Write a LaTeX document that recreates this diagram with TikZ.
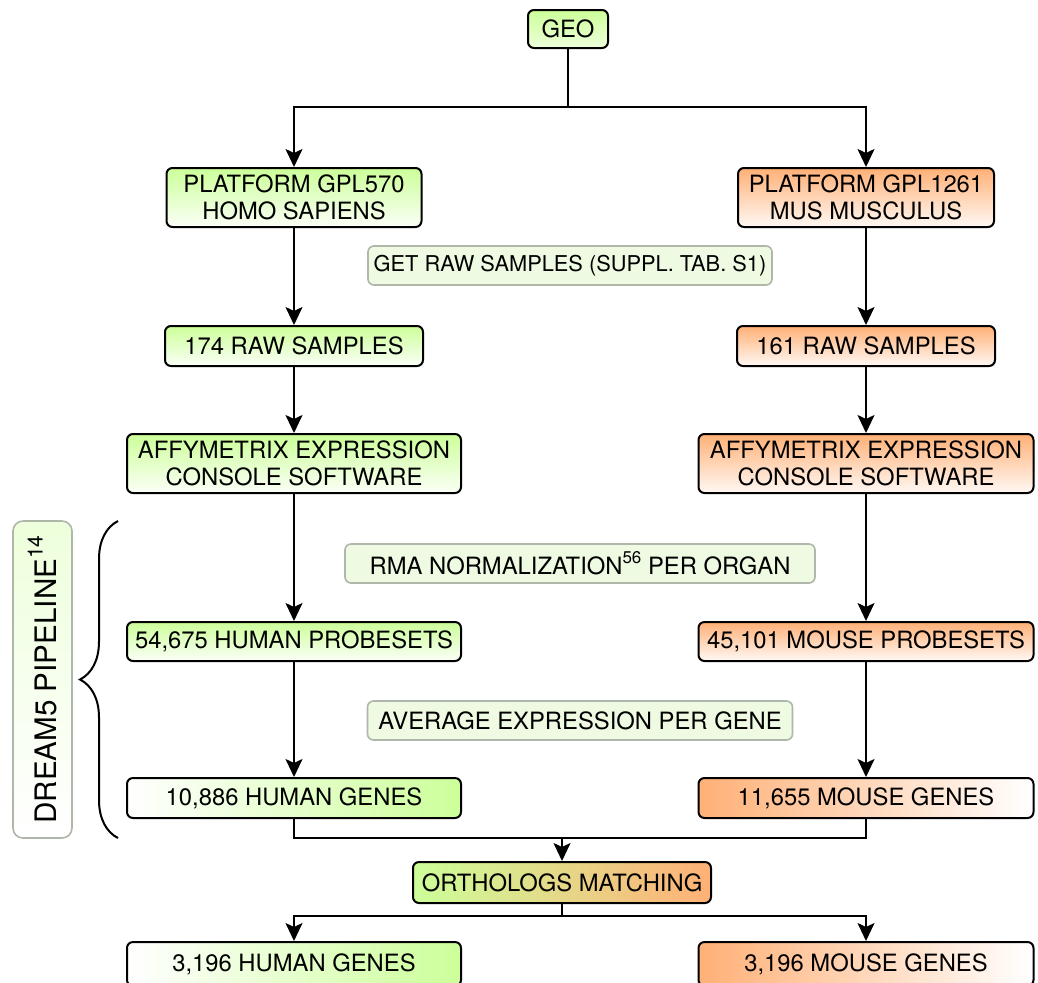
\documentclass[tikz,border=0pt]{standalone}
\usepackage{fontspec}
\setmainfont{TeX Gyre Heros}
\usetikzlibrary{arrows.meta,decorations.pathreplacing}
\definecolor{hgreen}{RGB}{204,255,153}
\definecolor{morange}{RGB}{255,176,118}
\definecolor{notefill}{RGB}{238,250,226}
\definecolor{notedraw}{RGB}{175,182,170}
\newcommand{\boxfont}[0]{\fontsize{11.9}{13.2}\selectfont}
\newcommand{\supnum}[1]{\raisebox{0.9ex}{\fontsize{8.5}{9}\selectfont #1}}

\begin{document}
\begin{tikzpicture}[x=0.5pt, y=-0.5pt, >={Stealth[length=9pt,width=8.5pt,inset=2pt]}]
  \tikzset{box/.style={draw, line width=1pt, rounded corners=3pt, align=center, inner sep=0pt, font=\boxfont},
           hbox/.style={box, top color=hgreen, bottom color=hgreen!8!white},
           mbox/.style={box, top color=morange, bottom color=morange!8!white},
           note/.style={draw=notedraw, line width=0.8pt, fill=notefill, rounded corners=3pt, align=center, inner sep=0pt, minimum height=19.5pt, font=\boxfont},
           link/.style={line width=1pt}}
  \useasboundingbox (0,0) rectangle (1038,982);

  \node[box, top color=hgreen, bottom color=hgreen!35!white, minimum width=40pt, minimum height=19pt] (geo) at (568,29) {GEO};

  \node[hbox, minimum width=127.5pt, minimum height=29.5pt] (plat1) at (294,197.5) {PLATFORM GPL570\\HOMO SAPIENS};
  \node[mbox, minimum width=128pt, minimum height=29.5pt] (plat2) at (866,197.5) {PLATFORM GPL1261\\MUS MUSCULUS};
  \node[note, minimum width=202pt, font=\fontsize{10.9}{12}\selectfont] (getraw) at (570,265.5) {GET RAW SAMPLES (SUPPL. TAB. S1)};

  \node[hbox, minimum width=129pt, minimum height=20pt] (raw1) at (294,346) {174 RAW SAMPLES};
  \node[mbox, minimum width=129pt, minimum height=20pt] (raw2) at (866,346) {161 RAW SAMPLES};

  \node[hbox, minimum width=167pt, minimum height=29.5pt] (affy1) at (294,463.5) {AFFYMETRIX EXPRESSION\\CONSOLE SOFTWARE};
  \node[mbox, minimum width=167.5pt, minimum height=29.5pt] (affy2) at (866,463.5) {AFFYMETRIX EXPRESSION\\CONSOLE SOFTWARE};
  \node[note, minimum width=235pt] (rma) at (580,563.5) {RMA NORMALIZATION\supnum{56} PER ORGAN};

  \node[hbox, minimum width=167pt, minimum height=19.5pt] (pset1) at (294,641.5) {54,675 HUMAN PROBESETS};
  \node[mbox, minimum width=167.5pt, minimum height=19.5pt] (pset2) at (866,641.5) {45,101 MOUSE PROBESETS};
  \node[note, minimum width=212.5pt] (avg) at (580,720.5) {AVERAGE EXPRESSION PER GENE};

  \node[box, left color=white, right color=hgreen, minimum width=167pt, minimum height=20pt] (gene1) at (294,798) {10,886 HUMAN GENES};
  \node[box, left color=morange, right color=white, minimum width=167.5pt, minimum height=20pt] (gene2) at (866,798) {11,655 MOUSE GENES};

  \node[box, left color=hgreen, right color=morange, minimum width=149pt, minimum height=20.5pt] (orth) at (562,882.5) {ORTHOLOGS MATCHING};

  \node[box, left color=white, right color=hgreen, minimum width=167pt, minimum height=22pt] (ort1) at (294,964) {3,196 HUMAN GENES};
  \node[box, left color=morange, right color=white, minimum width=167.5pt, minimum height=22pt] (ort2) at (866,964) {3,196 MOUSE GENES};

  \node[draw=notedraw, line width=0.8pt, rounded corners=5pt, top color=hgreen!35!white, bottom color=white, rotate=90, minimum width=158.5pt, minimum height=29.5pt, inner sep=0pt, font=\fontsize{14.8}{16}\selectfont] (dream) at (42.5,679.5) {DREAM5 PIPELINE\raisebox{0.9ex}{\fontsize{10.5}{11}\selectfont 14}};

  \coordinate (split1) at (568,107);
  \coordinate (join1) at (562,838);
  \coordinate (split2) at (562,916);
  \coordinate (btop) at (118,521);
  \coordinate (bbot) at (118,838);

  \draw[link] (geo) -- (split1);
  \draw[link,->] (split1) -| (plat1);
  \draw[link,->] (split1) -| (plat2);
  \draw[link,->] (plat1) -- (raw1);
  \draw[link,->] (plat2) -- (raw2);
  \draw[link,->] (raw1) -- (affy1);
  \draw[link,->] (raw2) -- (affy2);
  \draw[link,->] (affy1) -- (pset1);
  \draw[link,->] (affy2) -- (pset2);
  \draw[link,->] (pset1) -- (gene1);
  \draw[link,->] (pset2) -- (gene2);
  \draw[link] (gene1) |- (join1);
  \draw[link] (gene2) |- (join1);
  \draw[link,->] (join1) -- (orth);
  \draw[link] (orth) -- (split2);
  \draw[link,->] (split2) -| (ort1);
  \draw[link,->] (split2) -| (ort2);
  \draw[line width=1pt, decorate, decoration={brace, amplitude=19pt}] (bbot) -- (btop);
\end{tikzpicture}
\end{document}
